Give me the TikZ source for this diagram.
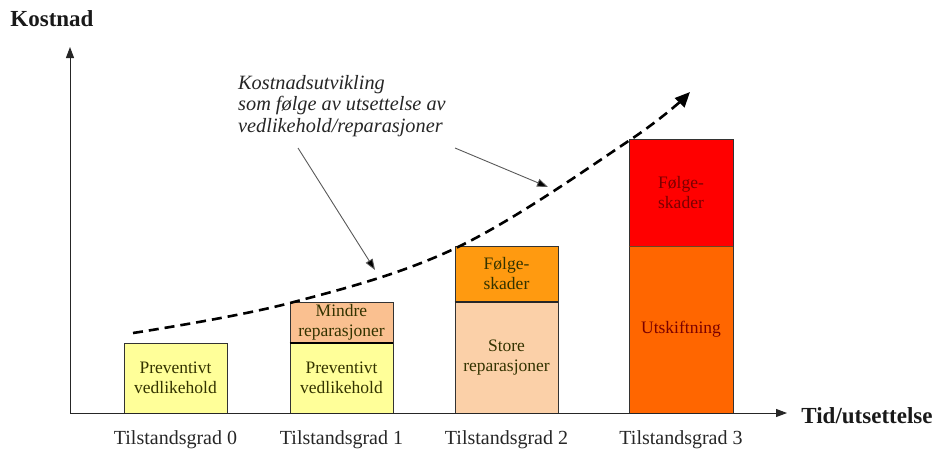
\documentclass[tikz,border=0pt]{standalone}
\usepackage{fontspec}
\setmainfont{Liberation Serif}
\usetikzlibrary{arrows.meta}
\definecolor{cyellow}{HTML}{FFFF99}
\definecolor{cpeach}{HTML}{FAC090}
\definecolor{clpeach}{HTML}{FBD0A8}
\definecolor{corange}{HTML}{FF9A10}
\definecolor{credor}{HTML}{FF6600}
\definecolor{cred}{HTML}{FF0000}
\definecolor{tdark}{HTML}{333300}
\definecolor{tred}{HTML}{7A0000}
\tikzset{
  bar/.style={draw=black!80, line width=0.8pt, minimum width=103pt, inner sep=0pt, align=center, font=\fontsize{17.5}{20}\selectfont, text=tdark},
  gradlabel/.style={font=\fontsize{20}{22}\selectfont, text=black!85},
  axislabel/.style={font=\fontsize{23}{25}\selectfont\bfseries, text=black!90},
  pointer/.style={draw=black!65, line width=0.9pt, -{Triangle[length=11pt,width=8pt,fill=black]}},
  axis/.style={draw=black!85, line width=1pt, -{Triangle[length=11pt,width=8pt]}}
}
\begin{document}
\begin{tikzpicture}[x=1pt,y=-1pt]
\useasboundingbox (0,0) rectangle (939,453);
% axes
\coordinate (o) at (70,413);
\coordinate (ytop) at (70,47);
\coordinate (xend) at (787,413);
% bars
\node[bar, fill=cyellow, minimum height=70pt] (b0) at (175.5,378) {Preventivt\\vedlikehold};
\node[bar, fill=cyellow, minimum height=70pt] (b1l) at (341.5,378) {Preventivt\\vedlikehold};
\node[bar, fill=cpeach, minimum height=41pt] (b1u) at (341.5,322.5) {Mindre\\reparasjoner};
\node[bar, fill=clpeach, minimum height=111pt] (b2l) at (506.5,357.5) {Store\\reparasjoner};
\node[bar, fill=corange, minimum height=56pt] (b2u) at (506.5,274) {Følge-\\skader};
\node[bar, fill=credor, minimum height=167pt, minimum width=104pt, text=tred] (b3l) at (681,329.5) {Utskiftning};
\node[bar, fill=cred, minimum height=107pt, minimum width=104pt, text=tred] (b3u) at (681,192.5) {Følge-\\skader};
\draw[line width=2pt] (b1u.south west) -- (b1u.south east);
\draw[line width=2pt, black!85] (b2u.south west) -- (b2u.south east);
\draw[line width=1.5pt, black!45!brown] (b3u.south west) -- (b3u.south east);
\draw[axis] (o) -- (ytop);
\draw[axis] (o) -- (xend);
% axis labels
\node[axislabel] (ylab) at (52,19) {Kostnad};
\node[axislabel] (xlab) at (867,416) {Tid/utsettelse};
% grade labels
\node[gradlabel] (g0) at (175.5,440) {Tilstandsgrad 0};
\node[gradlabel] (g1) at (341.5,440) {Tilstandsgrad 1};
\node[gradlabel] (g2) at (506.5,440) {Tilstandsgrad 2};
\node[gradlabel] (g3) at (681,440) {Tilstandsgrad 3};
% dashed curve
\draw[line width=2.6pt, dash pattern=on 10pt off 6pt, -{Triangle[length=15pt,width=13pt]}]
  plot[smooth, tension=0.6] coordinates {(133,333) (290,303) (458,247) (630,140) (690,92)};
% annotation
\node[anchor=north west, align=left, font=\fontsize{20.3}{21.5}\selectfont\itshape, text=black!85, inner sep=0pt] (ann) at (238,75)
  {Kostnadsutvikling\\som følge av utsettelse av\\vedlikehold/reparasjoner};
\coordinate (p1s) at (298,148);
\coordinate (p1e) at (375,270);
\coordinate (p2s) at (455,148);
\coordinate (p2e) at (548,187);
\draw[pointer] (p1s) -- (p1e);
\draw[pointer] (p2s) -- (p2e);
\end{tikzpicture}
\end{document}
